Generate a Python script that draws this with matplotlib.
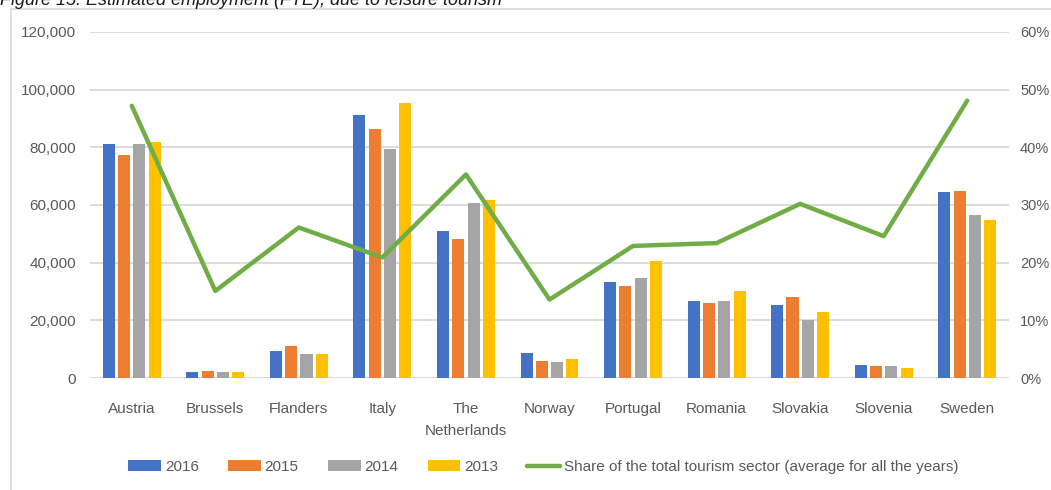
import numpy as np
import matplotlib.pyplot as plt
from matplotlib.patches import Rectangle
from matplotlib.ticker import FuncFormatter, PercentFormatter

plt.rcParams['font.family'] = ['Liberation Sans', 'DejaVu Sans']

# data
countries = ['Austria', 'Brussels', 'Flanders', 'Italy', 'The\nNetherlands', 'Norway',
             'Portugal', 'Romania', 'Slovakia', 'Slovenia', 'Sweden']
years = ['2016', '2015', '2014', '2013']
fte_2016 = [81000, 2000, 9500, 91200, 50900, 8800, 33400, 26700, 25200, 4500, 64400]
fte_2015 = [77300, 2400, 11000, 86200, 48300, 5900, 31900, 25900, 28100, 4200, 64900]
fte_2014 = [81000, 2000, 8400, 79400, 60600, 5600, 34800, 26700, 20000, 4200, 56500]
fte_2013 = [82000, 2000, 8400, 95500, 61600, 6600, 40600, 30200, 22800, 3500, 54800]
share = [47.2, 15.1, 26.1, 20.9, 35.3, 13.6, 22.9, 23.4, 30.2, 24.6, 48.1]

colors = ['#4472C4', '#ED7D31', '#A5A5A5', '#FFC000']
line_color = '#70AD47'
text_color = '#595959'

fig = plt.figure(figsize=(10.51, 4.90), dpi=100)
ax = fig.add_axes([90 / 1051, 1 - 378 / 490, 919 / 1051, 346 / 490])

x = np.arange(len(countries))
width = 0.144
stride = 0.183
series = [fte_2016, fte_2015, fte_2014, fte_2013]
for i, (vals, c, lab) in enumerate(zip(series, colors, years)):
    ax.bar(x + (i - 1.5) * stride, vals, width, color=c, label=lab, zorder=2)

ax.set_xlim(-0.5, len(countries) - 0.5)
ax.set_ylim(0, 120000)
ax.set_yticks(np.arange(0, 120001, 20000))
ax.yaxis.set_major_formatter(FuncFormatter(lambda v, p: f'{int(v):,}'))
ax.grid(axis='y', color='#D9D9D9', linewidth=1.3, zorder=0)
ax.set_xticks(x)
ax.set_xticklabels(countries, linespacing=1.75)
for s in ax.spines.values():
    s.set_visible(False)
ax.tick_params(length=0, labelsize=11, labelcolor=text_color)
ax.tick_params(axis='y', pad=10)
ax.tick_params(axis='x', pad=17)

ax2 = ax.twinx()
ax2.plot(x, np.array(share) / 100, color=line_color, linewidth=3.2,
         solid_capstyle='round', label='Share of the total tourism sector (average for all the years)')
ax2.set_ylim(0, 0.6)
ax2.set_yticks(np.arange(0, 0.61, 0.1))
ax2.yaxis.set_major_formatter(PercentFormatter(1.0, decimals=0))
for s in ax2.spines.values():
    s.set_visible(False)
ax2.tick_params(length=0, labelsize=10.5, labelcolor=text_color, pad=8)

h1, l1 = ax.get_legend_handles_labels()
h2, l2 = ax2.get_legend_handles_labels()
fig.legend(h1 + h2, l1 + l2, loc='center', bbox_to_anchor=(0.517, 1 - 467 / 490),
           ncol=5, frameon=False, fontsize=11, labelcolor=text_color,
           handlelength=2.15, handleheight=0.75, handletextpad=0.26, columnspacing=1.9)

fig.patches.append(Rectangle((11 / 1051, -0.1), 1.2, 1 - 9 / 490 + 0.1,
                             transform=fig.transFigure, fill=False,
                             edgecolor='#D9D9D9', linewidth=1.2))
fig.text(0.0, 1 - 5 / 490, 'Figure 15: Estimated employment (FTE), due to leisure tourism',
         fontsize=13, style='italic', color='#1a1a1a', ha='left', va='baseline')

fig.savefig('out.png', dpi=100)
